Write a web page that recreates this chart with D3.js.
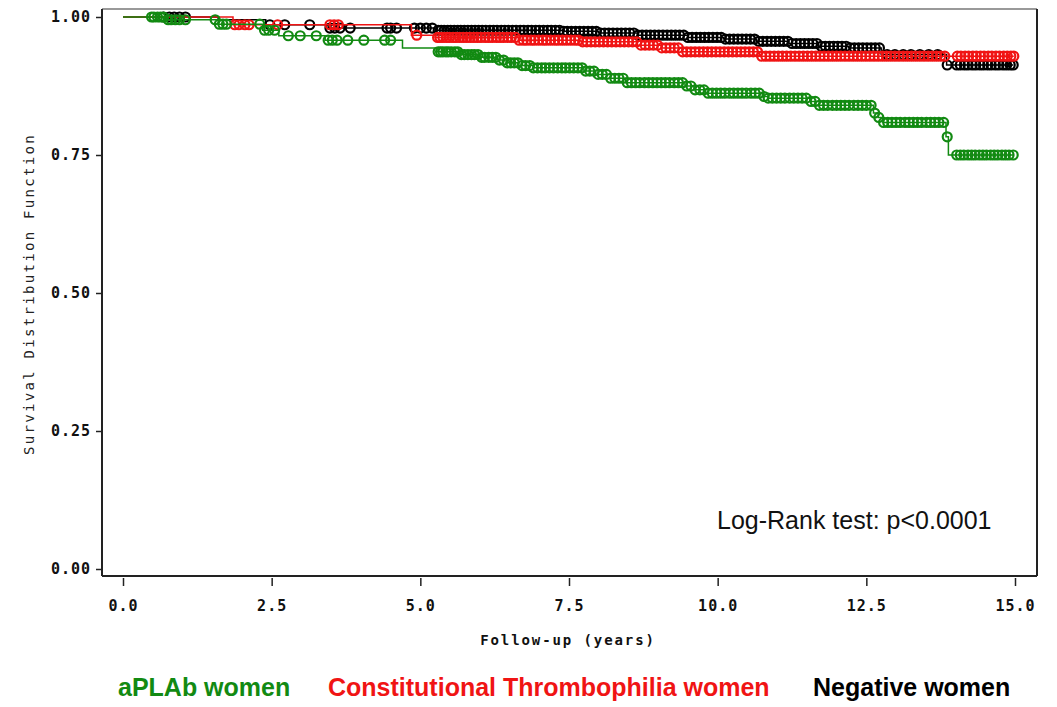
<!DOCTYPE html>
<html>
<head>
<meta charset="utf-8">
<script src="https://cdn.jsdelivr.net/npm/d3@7"></script>
<style>
  body { margin: 0; background: #fff; }
</style>
</head>
<body>
<div id="km-plot"></div>
<script>
// Kaplan-Meier steps: time of each drop and survival just after it
const aplabTimes = [0, 0.72, 1.60, 2.35, 2.62, 3.40, 4.70, 5.28, 5.65, 6.00, 6.30, 6.45, 6.65, 6.90, 7.75, 7.95, 8.20, 8.45, 9.45, 9.60, 9.80, 10.75, 10.85, 11.55, 11.65, 12.62, 12.70, 12.78, 13.84, 13.88];
const aplabSurv = [1, 0.995, 0.987, 0.976, 0.966, 0.958, 0.944, 0.937, 0.932, 0.927, 0.922, 0.917, 0.912, 0.908, 0.902, 0.896, 0.889, 0.881, 0.875, 0.868, 0.862, 0.856, 0.853, 0.847, 0.840, 0.826, 0.818, 0.809, 0.783, 0.750];
const aplabCensor = [0.48, 0.52, 0.58, 0.63, 0.68, 0.76, 0.81, 0.88, 0.95, 1.05, 1.55, 1.62, 1.68, 1.74,
  2.30, 2.38, 2.45, 2.55, 2.78, 2.98, 3.25, 3.45, 3.52, 3.60, 3.78, 4.05, 4.40, 4.50,
  5.30, 5.34, 5.38, 5.43, 5.47, 5.52, 5.58, 5.63, 5.69, 5.74, 5.80, 5.86, 5.91, 5.97, 6.03, 6.08, 6.15, 6.21, 6.27, 6.33,
  6.40, 6.46, 6.52, 6.58, 6.64, 6.71, 6.77, 6.84, 6.90, 6.97, 7.04, 7.10, 7.17, 7.24, 7.31, 7.38, 7.44, 7.51, 7.58, 7.65,
  7.72, 7.78, 7.85, 7.92, 7.99, 8.06, 8.13, 8.20, 8.27, 8.34, 8.41, 8.48, 8.55, 8.62, 8.69, 8.77, 8.84, 8.91, 8.98, 9.05,
  9.12, 9.19, 9.27, 9.34, 9.41, 9.48, 9.55, 9.62, 9.70, 9.77, 9.84, 9.91, 9.98, 10.05, 10.12, 10.20, 10.27, 10.34, 10.41,
  10.48, 10.56, 10.63, 10.70, 10.78, 10.85, 10.92, 10.99, 11.06, 11.13, 11.21, 11.28, 11.35, 11.42, 11.49, 11.57, 11.64,
  11.71, 11.78, 11.85, 11.93, 12.00, 12.07, 12.14, 12.21, 12.29, 12.36, 12.43, 12.50, 12.58, 12.64, 12.71, 12.79, 12.86,
  12.93, 13.00, 13.07, 13.15, 13.22, 13.29, 13.36, 13.43, 13.51, 13.58, 13.65, 13.72, 13.80, 13.86,
  14.02, 14.08, 14.14, 14.21, 14.27, 14.33, 14.40, 14.46, 14.52, 14.59, 14.65, 14.71, 14.78, 14.84, 14.90, 14.97];

const thrombTimes = [0, 1.85, 4.85, 5.25, 6.65, 7.70, 8.65, 9.05, 9.40, 10.70];
const thrombSurv = [1, 0.986, 0.967, 0.963, 0.958, 0.955, 0.949, 0.944, 0.937, 0.929];
const thrombCensor = [1.88, 1.95, 2.05, 2.12, 2.60, 3.48, 3.55, 3.62, 4.94,
  5.29, 5.33, 5.38, 5.44, 5.49, 5.55, 5.60, 5.66, 5.72, 5.78, 5.84, 5.90, 5.96, 6.02, 6.09, 6.15, 6.21, 6.28, 6.34, 6.40,
  6.47, 6.53, 6.60, 6.66, 6.73, 6.79, 6.86, 6.92, 6.99, 7.06, 7.12, 7.19, 7.26, 7.32, 7.39, 7.46, 7.53, 7.60, 7.66, 7.73,
  7.80, 7.87, 7.94, 8.01, 8.08, 8.15, 8.22, 8.29, 8.36, 8.43, 8.50, 8.57, 8.64, 8.71, 8.78, 8.85, 8.92, 8.99, 9.06, 9.13,
  9.20, 9.27, 9.34, 9.41, 9.48, 9.55, 9.62, 9.69, 9.76, 9.83, 9.90, 9.97, 10.04, 10.11, 10.18, 10.25, 10.32, 10.39, 10.46,
  10.53, 10.60, 10.67, 10.74, 10.81, 10.88, 10.95, 11.02, 11.09, 11.16, 11.23, 11.30, 11.37, 11.44, 11.51, 11.58, 11.65,
  11.72, 11.79, 11.86, 11.93, 12.00, 12.07, 12.14, 12.21, 12.28, 12.35, 12.42, 12.49, 12.56, 12.63, 12.70, 12.77, 12.84,
  12.91, 12.98, 13.05, 13.12, 13.19, 13.26, 13.33, 13.40, 13.47, 13.54, 13.61, 13.68, 13.75, 13.82,
  14.03, 14.09, 14.16, 14.22, 14.29, 14.35, 14.42, 14.48, 14.55, 14.61, 14.68, 14.74, 14.81, 14.87, 14.93, 14.98];

const negativeTimes = [0, 1.60, 2.40, 3.45, 5.25, 7.40, 8.00, 8.65, 9.50, 10.10, 10.65, 11.20, 11.70, 12.20, 12.75, 13.85];
const negativeSurv = [1, 0.995, 0.986, 0.980, 0.976, 0.974, 0.971, 0.967, 0.963, 0.960, 0.956, 0.952, 0.947, 0.944, 0.932, 0.913];
const negativeCensor = [0.68, 0.78, 0.86, 0.95, 1.05, 2.47, 2.72, 3.14, 3.48, 3.56, 3.65, 3.82, 4.44, 4.50, 4.60, 4.90, 5.00, 5.10, 5.20,
  5.30, 5.35, 5.40, 5.46, 5.51, 5.57, 5.63, 5.68, 5.74, 5.80, 5.86, 5.92, 5.98, 6.04, 6.10, 6.17, 6.23, 6.29, 6.36, 6.42,
  6.48, 6.55, 6.61, 6.68, 6.74, 6.81, 6.87, 6.94, 7.00, 7.07, 7.14, 7.20, 7.27, 7.34, 7.41, 7.47, 7.54, 7.61, 7.68, 7.75,
  7.82, 7.89, 7.96, 8.03, 8.10, 8.17, 8.24, 8.31, 8.38, 8.45, 8.52, 8.59, 8.66, 8.73, 8.80, 8.87, 8.94, 9.01, 9.08, 9.15,
  9.22, 9.29, 9.36, 9.43, 9.50, 9.57, 9.64, 9.71, 9.78, 9.85, 9.92, 9.99, 10.06, 10.13, 10.20, 10.27, 10.34, 10.41, 10.48,
  10.55, 10.62, 10.69, 10.76, 10.83, 10.90, 10.97, 11.04, 11.11, 11.18, 11.25, 11.32, 11.39, 11.46, 11.53, 11.60, 11.67,
  11.74, 11.81, 11.88, 11.95, 12.02, 12.09, 12.16, 12.23, 12.30, 12.37, 12.44, 12.51, 12.58, 12.65, 12.72,
  12.85, 12.98, 13.12, 13.25, 13.40, 13.55, 13.70, 13.86,
  14.02, 14.08, 14.15, 14.21, 14.28, 14.34, 14.41, 14.47, 14.54, 14.60, 14.67, 14.73, 14.80, 14.86, 14.92, 14.97];

const xTicks = [0, 2.5, 5, 7.5, 10, 12.5, 15];
const yTicks = [0, 0.25, 0.5, 0.75, 1];
const legendLabels = ["aPLAb women", "Constitutional Thrombophilia women", "Negative women"];
const legendX = [118, 328, 813];
const colors = ["#128a12", "#f01414", "#000000"];

const W = 1057, H = 707;
const frame = { left: 102, right: 1037, top: 9, bottom: 576 };

const x = d3.scaleLinear().domain([0, 15]).range([123, 1015]);
const y = d3.scaleLinear().domain([0, 1]).range([569, 17]);

const svg = d3.select("#km-plot")
    .append("svg")
    .attr("width", W)
    .attr("height", H);

// frame: grey top, black right, axis lines left/bottom
svg.append("line")
    .attr("x1", frame.left).attr("x2", frame.right)
    .attr("y1", frame.top).attr("y2", frame.top)
    .style("stroke", "#999").style("stroke-width", 2);
svg.append("line")
    .attr("x1", frame.right).attr("x2", frame.right)
    .attr("y1", frame.top).attr("y2", frame.bottom)
    .style("stroke", "#222").style("stroke-width", 2);
svg.append("line")
    .attr("x1", frame.left).attr("x2", frame.left)
    .attr("y1", frame.top).attr("y2", frame.bottom)
    .style("stroke", "#222").style("stroke-width", 2);
svg.append("line")
    .attr("x1", frame.left).attr("x2", frame.right)
    .attr("y1", frame.bottom).attr("y2", frame.bottom)
    .style("stroke", "#222").style("stroke-width", 2);

// Y axis
const yAxis = svg.append("g")
    .attr("transform", "translate(" + frame.left + ",0)")
    .call(d3.axisLeft(y).tickValues(yTicks).tickFormat(d3.format(".2f")).tickSize(6).tickPadding(5));
yAxis.select(".domain").remove();

// X axis, ticks hang just below the axis line
const xAxis = svg.append("g")
    .attr("transform", "translate(0," + (frame.bottom + 2) + ")")
    .call(d3.axisBottom(x).tickValues(xTicks).tickFormat(d3.format(".1f")).tickSize(8).tickPadding(14));
xAxis.select(".domain").remove();

svg.selectAll(".tick line").style("stroke", "#222").style("stroke-width", 1.5);
svg.selectAll(".tick text")
    .style("font-family", "'DejaVu Sans Mono', monospace")
    .style("font-size", "15px")
    .style("font-weight", "bold")
    .style("letter-spacing", "1px")
    .style("fill", "#111");

// axis titles
svg.append("text")
    .attr("x", 568)
    .attr("y", 645)
    .attr("text-anchor", "middle")
    .text("Follow-up (years)")
    .style("font-family", "'DejaVu Sans Mono', monospace")
    .style("font-size", "14px")
    .style("font-weight", "bold")
    .style("letter-spacing", "1.9px")
    .style("fill", "#111");

svg.append("text")
    .attr("transform", "translate(34,294) rotate(-90)")
    .attr("text-anchor", "middle")
    .text("Survival Distribution Function")
    .style("font-family", "'DejaVu Sans Mono', monospace")
    .style("font-size", "14px")
    .style("letter-spacing", "2.3px")
    .style("fill", "#222");

// curves
const groups = [
    { times: negativeTimes, surv: negativeSurv, censor: negativeCensor, color: colors[2] },
    { times: thrombTimes, surv: thrombSurv, censor: thrombCensor, color: colors[1] },
    { times: aplabTimes, surv: aplabSurv, censor: aplabCensor, color: colors[0] }
];

const stepLine = d3.line()
    .x(d => x(d[0]))
    .y(d => y(d[1]))
    .curve(d3.curveStepAfter);

groups.forEach(function(g) {
    const pts = g.times.map((t, i) => [t, g.surv[i]]);
    const last = d3.max(g.censor);
    pts.push([last, g.surv[g.surv.length - 1]]);

    svg.append("path")
        .datum(pts)
        .attr("d", stepLine)
        .style("fill", "none")
        .style("stroke", g.color)
        .style("stroke-width", 1.5);

    // survival at a censored time = value of the last step at or before it
    const survAt = t => g.surv[d3.bisectRight(g.times, t) - 1];

    svg.selectAll(null)
        .data(g.censor)
        .enter().append("circle")
        .attr("cx", d => x(d))
        .attr("cy", d => y(survAt(d)))
        .attr("r", 4.5)
        .style("fill", "none")
        .style("stroke", g.color)
        .style("stroke-width", 2.2);
});

// log-rank annotation
svg.append("text")
    .attr("x", 717)
    .attr("y", 529)
    .text("Log-Rank test: p<0.0001")
    .style("font-family", "'Liberation Sans', Arial, sans-serif")
    .style("font-size", "25px")
    .style("fill", "#111");

// legend
svg.selectAll(".legend")
    .data(legendLabels)
    .enter().append("text")
    .attr("class", "legend")
    .attr("x", (d, i) => legendX[i])
    .attr("y", 696)
    .text(d => d)
    .style("font-family", "'Liberation Sans', Arial, sans-serif")
    .style("font-size", "25px")
    .style("font-weight", "bold")
    .style("fill", (d, i) => colors[i]);
</script>
</body>
</html>
